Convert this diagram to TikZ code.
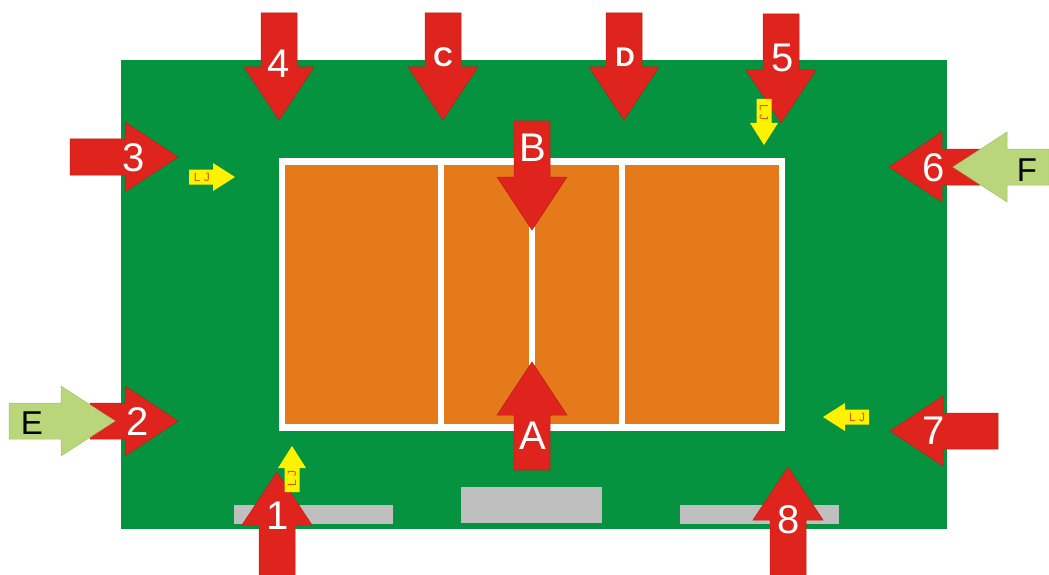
\documentclass[tikz,border=0pt]{standalone}
\usepackage{fontspec}
\setmainfont{Liberation Sans}
\definecolor{fieldgreen}{HTML}{05933F}
\definecolor{courtorange}{HTML}{E57A1A}
\definecolor{arrowred}{HTML}{DE241C}
\definecolor{arrowgreen}{HTML}{B9D67A}
\definecolor{arrowyellow}{HTML}{FFF200}
\definecolor{benchgray}{HTML}{BFBFBF}
\definecolor{ljred}{HTML}{CF5A1A}
\tikzset{
  biglabel/.style={inner sep=0pt, font=\fontsize{40}{40}\selectfont},
  sidelabel/.style={inner sep=0pt, font=\fontsize{33}{33}\selectfont},
  boldlabel/.style={inner sep=0pt, font=\fontsize{27}{27}\selectfont\bfseries},
  ljlabel/.style={inner sep=0pt, text=ljred, font=\fontsize{12}{12}\selectfont}
}
\begin{document}
\begin{tikzpicture}[x=1pt,y=-1pt]
\useasboundingbox (0,0) rectangle (1049,575);
% Field and court
\fill[fieldgreen] (121,60) rectangle (947,529);
\fill[white] (279,158) rectangle (785,431);
\foreach \xa/\xb in {285/438,444/529,535/619,625/779}
  \fill[courtorange] (\xa,165) rectangle (\xb,424);
% Benches
\foreach \xa/\ya/\xb/\yb in {234/505/393/524,461/487/602/523,680/505/839/524}
  \fill[benchgray] (\xa,\ya) rectangle (\xb,\yb);
% Red arrows: tip x/tip y/angle/length
\foreach \tx/\ty/\ang/\len in {277/472/90/103,178/421/0/88,178/157/0/108,279/120/-90/107,
    443/120/-90/107,624/120/-90/107,781/123/-90/109,532/230/-90/109,532/362/90/108,
    889/167/180/91,890/431/180/108,788/467/90/108}
  \draw[arrowred!85!black, line width=0.5pt, fill=arrowred, shift={(\tx,\ty)}, rotate=\ang]
    (0,0) -- (-53,35) -- (-53,18) -- (-\len,18) -- (-\len,-18) -- (-53,-18) -- (-53,-35) -- cycle;
% Numbers and letters on the red arrows
\foreach \lname/\lx/\ly/\lab in {one/278/516/1,two/138/422/2,three/134/158/3,four/279/64/4,
    five/783/58/5,six/934/168/6,seven/934/431/7,eight/789/520/8,a/533/436/A,b/533/148/B}
  \node[biglabel, text=white] (lab\lname) at (\lx,\ly) {\lab};
\node[boldlabel, text=white] (labc) at (443,57) {C};
\node[boldlabel, text=white] (labd) at (625,57) {D};
% Green arrows
\foreach \tx/\ty/\ang/\len in {115/421/0/106,953/167/180/96}
  \draw[arrowgreen!90!black, line width=0.5pt, fill=arrowgreen, shift={(\tx,\ty)}, rotate=\ang]
    (0,0) -- (-54,35) -- (-54,18) -- (-\len,18) -- (-\len,-18) -- (-54,-18) -- (-54,-35) -- cycle;
\node[sidelabel] (labe) at (32,423) {E};
\node[sidelabel] (labf) at (1027,170) {F};
% Yellow arrows
\foreach \tx/\ty/\ang in {235/177/0,764/145/-90,823/417/180,292/446/90}
  \fill[arrowyellow, shift={(\tx,\ty)}, rotate=\ang]
    (0,0) -- (-22,14) -- (-22,7.5) -- (-46,7.5) -- (-46,-7.5) -- (-22,-7.5) -- (-22,-14) -- cycle;
\node[ljlabel] (ljright) at (202,177) {L J};
\node[ljlabel, rotate=-90] (ljdown) at (764,113) {L J};
\node[ljlabel] (ljleft) at (857,417) {L J};
\node[ljlabel, rotate=90] (ljup) at (292,478) {L J};
\end{tikzpicture}
\end{document}
